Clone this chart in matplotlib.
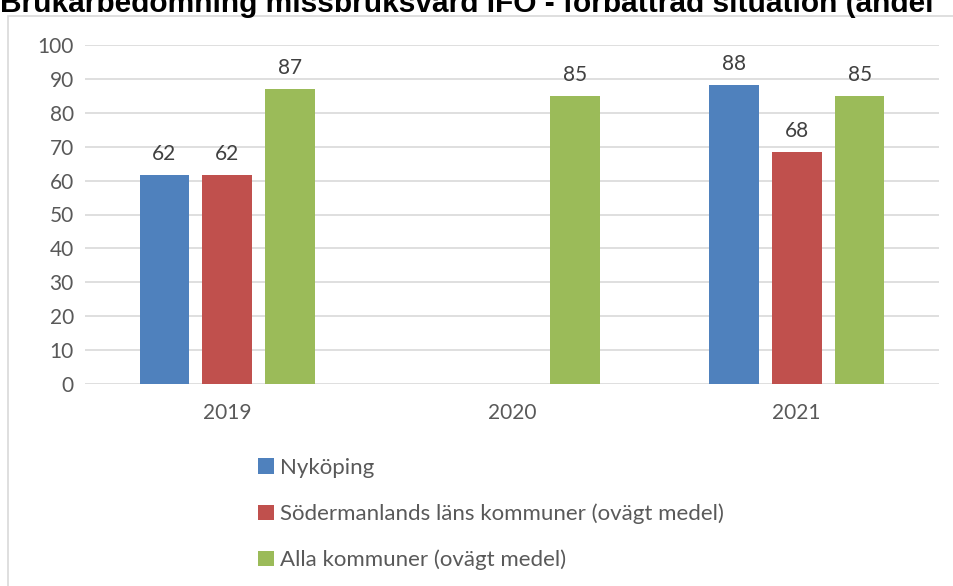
import numpy as np
import matplotlib.pyplot as plt
from matplotlib.patches import Rectangle

years = ['2019', '2020', '2021']
series = ['Nyköping',
          'Södermanlands läns kommuner (ovägt medel)',
          'Alla kommuner (ovägt medel)']
nykoping = [61.6, np.nan, 88.2]
sodermanland = [61.6, np.nan, 68.4]
alla = [87.0, 85.0, 85.0]
colors = ['#4f81bd', '#c0504d', '#9bbb59']
title = 'Brukarbedömning missbruksvård IFO - förbättrad situation (andel'

plt.rcParams['font.family'] = ['Lato', 'DejaVu Sans']
txt = '#595959'

fig = plt.figure(figsize=(9.54, 5.86), dpi=100)
# chart frame
fig.patches.append(Rectangle((8 / 954, -0.01), 1.0, 1 - 16 / 586 + 0.01,
                             transform=fig.transFigure, fill=False,
                             edgecolor='#d9d9d9', linewidth=1.2))
# title, cut at the top like in the source image
fig.text(0.0, 1 - 12 / 586, title, fontsize=21.5, fontweight='bold',
         family=['Liberation Sans'], va='baseline', ha='left', color='black')

ax = fig.add_axes([85 / 954, 1 - 384 / 586, (939 - 85) / 954, (384 - 45) / 586])
x = np.arange(len(years))
w = 0.175
step = 0.221
for i, (vals, name) in enumerate(zip([nykoping, sodermanland, alla], series)):
    pos = x + (i - 1) * step
    ax.bar(pos, vals, width=w, color=colors[i], label=name, zorder=3)
    for p, v in zip(pos, vals):
        if not np.isnan(v):
            ax.text(p, v + 3.3, '{:.0f}'.format(v), ha='center', va='bottom',
                    fontsize=15, color='#404040')

ax.set_xlim(-0.5, 2.5)
ax.set_ylim(0, 100)
ax.set_yticks(range(0, 101, 10))
ax.yaxis.grid(True, color='#d9d9d9', linewidth=1.2, zorder=0)
ax.set_axisbelow(True)
for s in ax.spines.values():
    s.set_visible(False)
ax.set_xticks(x)
ax.set_xticklabels(years)
ax.tick_params(axis='both', length=0, labelsize=15, colors=txt)
ax.tick_params(axis='x', pad=14)
ax.tick_params(axis='y', pad=8)

leg = fig.legend(loc='upper left', bbox_to_anchor=(258 / 954, 1 - 458 / 586),
                 frameon=False, fontsize=16, labelcolor=txt,
                 handlelength=0.7, handleheight=0.7, handletextpad=0.3,
                 labelspacing=1.15, borderaxespad=0, borderpad=0)

fig.savefig('out.png', dpi=100)
